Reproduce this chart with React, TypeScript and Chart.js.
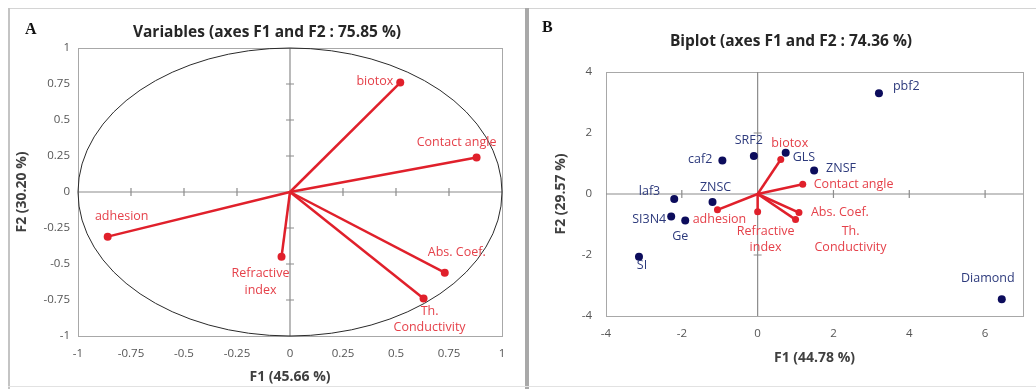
import React, { useEffect, useRef } from "react";
import { Chart, registerables } from "chart.js";

Chart.register(...registerables);

// ---------- Data: panel A (variables, correlation circle) ----------
const varNames = ["biotox", "Contact angle", "adhesion", "Refractive index", "Abs. Coef.", "Th. Conductivity"];
const varF1A = [0.52, 0.88, -0.86, -0.04, 0.73, 0.63];
const varF2A = [0.76, 0.24, -0.31, -0.45, -0.56, -0.74];
const ticksXA = [-1, -0.75, -0.5, -0.25, 0, 0.25, 0.5, 0.75, 1];
const ticksYA = [-1, -0.75, -0.5, -0.25, 0, 0.25, 0.5, 0.75, 1];

// ---------- Data: panel B (biplot) ----------
const sampleNames = ["pbf2", "SRF2", "caf2", "GLS", "ZNSF", "laf3", "ZNSC", "SI3N4", "Ge", "SI", "Diamond"];
const sampleF1 = [3.2, -0.1, -0.93, 0.74, 1.49, -2.2, -1.19, -2.28, -1.91, -3.13, 6.44];
const sampleF2 = [3.3, 1.25, 1.1, 1.35, 0.77, -0.16, -0.26, -0.74, -0.87, -2.06, -3.45];
const varF1B = [0.61, 1.19, -1.06, 0.0, 1.09, 1.0];
const varF2B = [1.13, 0.32, -0.52, -0.58, -0.61, -0.84];
const ticksXB = [-4, -2, 0, 2, 4, 6];
const ticksYB = [-4, -2, 0, 2, 4];

// ---------- Label placement (pixel offsets from the point) ----------
type Place = { dx: number; dy: number; align: CanvasTextAlign; wrap?: boolean; lh?: number };
const placeVarA: Place[] = [
  { dx: -7, dy: -1, align: "right" },
  { dx: -20, dy: -15, align: "center" },
  { dx: 14, dy: -20, align: "center" },
  { dx: -21, dy: 17, align: "center", wrap: true, lh: 17 },
  { dx: 12, dy: -20, align: "center" },
  { dx: 6, dy: 13, align: "center", wrap: true, lh: 16 },
];
const placeVarB: Place[] = [
  { dx: 9, dy: -16, align: "center" },
  { dx: 11, dy: 0, align: "left" },
  { dx: 2, dy: 10, align: "center" },
  { dx: 8, dy: 20, align: "center", wrap: true, lh: 16 },
  { dx: 12, dy: 0, align: "left" },
  { dx: 55, dy: 12, align: "center", wrap: true, lh: 16 },
];
const placeSamples: Place[] = [
  { dx: 14, dy: -7, align: "left" },
  { dx: -5, dy: -15, align: "center" },
  { dx: -10, dy: -1, align: "right" },
  { dx: 7, dy: 5, align: "left" },
  { dx: 12, dy: -2, align: "left" },
  { dx: -14, dy: -7, align: "right" },
  { dx: 3, dy: -14, align: "center" },
  { dx: -5, dy: 3, align: "right" },
  { dx: -5, dy: 16, align: "center" },
  { dx: 3, dy: 9, align: "center" },
  { dx: -14, dy: -21, align: "center" },
];

const FONT = "'Open Sans', 'DejaVu Sans', sans-serif";
const RED = "#e0202b";
const RED_TEXT = "#e5414a";
const NAVY = "#0c0c5c";
const NAVY_TEXT = "#2d3a7c";

type LabelItem = { x: number; y: number; text: string; color: string } & Place;

function buildLabels(names: string[], xs: number[], ys: number[], places: Place[], color: string): LabelItem[] {
  return names.map((n, i) => ({ x: xs[i], y: ys[i], text: n, color, ...places[i] }));
}

const decorPlugin = {
  id: "decor",
  beforeDatasetsDraw(chart: any, _args: any, opts: any) {
    const { ctx, chartArea: a, scales } = chart;
    const xs = scales.x, ys = scales.y;
    ctx.save();
    ctx.strokeStyle = "#a8a8a8";
    ctx.lineWidth = 1;
    ctx.strokeRect(Math.round(a.left) + 0.5, Math.round(a.top) + 0.5, Math.round(a.right - a.left), Math.round(a.bottom - a.top));
    const x0 = xs.getPixelForValue(0);
    const y0 = ys.getPixelForValue(0);
    ctx.strokeStyle = "#8c8c8c";
    ctx.lineWidth = 1.2;
    ctx.beginPath();
    ctx.moveTo(x0, a.top);
    ctx.lineTo(x0, a.bottom);
    ctx.moveTo(a.left, y0);
    ctx.lineTo(a.right, y0);
    xs.ticks.forEach((t: any) => {
      if (t.value === 0 || t.value === xs.min || t.value === xs.max) return;
      const px = xs.getPixelForValue(t.value);
      ctx.moveTo(px, y0 - 4);
      ctx.lineTo(px, y0 + 4);
    });
    ys.ticks.forEach((t: any) => {
      if (t.value === 0 || t.value === ys.min || t.value === ys.max) return;
      const py = ys.getPixelForValue(t.value);
      ctx.moveTo(x0 - 4, py);
      ctx.lineTo(x0 + 4, py);
    });
    ctx.stroke();
    if (opts.circle) {
      const cx = x0, cy = y0;
      const rx = xs.getPixelForValue(1) - cx;
      const ry = cy - ys.getPixelForValue(1);
      ctx.strokeStyle = "#2a2a2a";
      ctx.lineWidth = 1;
      ctx.beginPath();
      ctx.ellipse(cx, cy, rx, ry, 0, 0, Math.PI * 2);
      ctx.stroke();
    }
    ctx.restore();
  },
  afterDatasetsDraw(chart: any, _args: any, opts: any) {
    const { ctx, scales } = chart;
    ctx.save();
    ctx.font = `12.5px ${FONT}`;
    ctx.textBaseline = "middle";
    (opts.labels || []).forEach((l: LabelItem) => {
      const px = scales.x.getPixelForValue(l.x) + l.dx;
      const py = scales.y.getPixelForValue(l.y) + l.dy;
      ctx.fillStyle = l.color;
      ctx.textAlign = l.align;
      const lines = l.wrap ? l.text.split(" ") : [l.text];
      lines.forEach((ln, i) => ctx.fillText(ln, px, py + i * (l.lh || 16)));
    });
    ctx.restore();
  },
  afterDraw(chart: any, _args: any, opts: any) {
    const { ctx, chartArea: a } = chart;
    ctx.save();
    ctx.textBaseline = "middle";
    ctx.textAlign = "center";
    ctx.fillStyle = "#262626";
    ctx.font = `bold 15.5px ${FONT}`;
    ctx.fillText(opts.title, opts.titleX, opts.titleY);
    ctx.fillStyle = "#404040";
    ctx.font = `bold 14px ${FONT}`;
    ctx.fillText(opts.xTitle, (a.left + a.right) / 2, opts.xTitleY);
    ctx.save();
    ctx.translate(opts.yTitleX, (a.top + a.bottom) / 2);
    ctx.rotate(-Math.PI / 2);
    ctx.fillText(opts.yTitle, 0, 0);
    ctx.restore();
    ctx.fillStyle = "#111";
    ctx.font = "bold 16px 'Liberation Serif', 'DejaVu Serif', serif";
    ctx.textAlign = "left";
    ctx.fillText(opts.letter, opts.letterX, opts.letterY);
    ctx.restore();
  },
};

function scaleOpts(min: number, max: number, tickVals: number[], isX: boolean, size: number, pad: number, extraTicks: any = {}) {
  return {
    type: "linear",
    min,
    max,
    afterBuildTicks: (s: any) => {
      s.ticks = tickVals.map((v) => ({ value: v }));
    },
    afterFit: (s: any) => {
      if (isX) s.height = size;
      else s.width = size;
    },
    ticks: {
      autoSkip: false,
      maxRotation: 0,
      padding: pad,
      color: "#555555",
      font: { family: FONT, size: 11.5 },
      callback: (v: any) => String(v),
      ...extraTicks,
    },
    grid: { display: false, drawTicks: false },
    border: { display: false },
  };
}

function vectorDatasets(xs: number[], ys: number[], radius: number) {
  return xs.map((vx, i) => ({
    data: [
      { x: 0, y: 0 },
      { x: vx, y: ys[i] },
    ],
    showLine: true,
    borderColor: RED,
    backgroundColor: RED,
    borderWidth: 2.5,
    pointRadius: [0, radius],
    pointBorderWidth: 0,
  }));
}

export default function App() {
  const refA = useRef<HTMLCanvasElement | null>(null);
  const refB = useRef<HTMLCanvasElement | null>(null);

  useEffect(() => {
    if (!refA.current || !refB.current) return;
    const chartA = new Chart(refA.current, {
      type: "scatter",
      data: { datasets: vectorDatasets(varF1A, varF2A, 4) as any },
      options: {
        animation: false,
        responsive: false,
        devicePixelRatio: 1,
        events: [],
        layout: { padding: { left: 0, right: 23, top: 40, bottom: 0 } },
        scales: {
          x: scaleOpts(-1, 1, ticksXA, true, 53, 11) as any,
          y: scaleOpts(-1, 1, ticksYA, false, 70, 8) as any,
        },
        plugins: {
          legend: { display: false },
          tooltip: { enabled: false },
          decor: {
            circle: true,
            title: "Variables (axes F1 and F2 : 75.85 %)",
            titleX: 259,
            titleY: 25,
            xTitle: "F1 (45.66 %)",
            xTitleY: 369,
            yTitle: "F2 (30.20 %)",
            yTitleX: 14,
            letter: "A",
            letterX: 17,
            letterY: 22,
            labels: buildLabels(varNames, varF1A, varF2A, placeVarA, RED_TEXT),
          },
        } as any,
      },
      plugins: [decorPlugin as any],
    });

    const chartB = new Chart(refB.current, {
      type: "scatter",
      data: {
        datasets: [
          {
            data: sampleF1.map((v, i) => ({ x: v, y: sampleF2[i] })),
            backgroundColor: NAVY,
            borderColor: NAVY,
            pointRadius: 4,
            pointBorderWidth: 0,
          },
          ...(vectorDatasets(varF1B, varF2B, 3.5) as any),
        ],
      },
      options: {
        animation: false,
        responsive: false,
        devicePixelRatio: 1,
        events: [],
        layout: { padding: { left: 0, right: 13, top: 64, bottom: 0 } },
        scales: {
          x: scaleOpts(-4, 7, ticksXB, true, 73, 11, { includeBounds: false }) as any,
          y: scaleOpts(-4, 4, ticksYB, false, 76, 14) as any,
        },
        plugins: {
          legend: { display: false },
          tooltip: { enabled: false },
          decor: {
            circle: false,
            title: "Biplot (axes F1 and F2 : 74.36 %)",
            titleX: 261,
            titleY: 34,
            xTitle: "F1 (44.78 %)",
            xTitleY: 350,
            yTitle: "F2 (29.57 %)",
            yTitleX: 31,
            letter: "B",
            letterX: 12,
            letterY: 20,
            labels: [
              ...buildLabels(sampleNames, sampleF1, sampleF2, placeSamples, NAVY_TEXT),
              ...buildLabels(varNames, varF1B, varF2B, placeVarB, RED_TEXT),
            ],
          },
        } as any,
      },
      plugins: [decorPlugin as any],
    });

    return () => {
      chartA.destroy();
      chartB.destroy();
    };
  }, []);

  return (
    <div style={{ position: "absolute", left: 0, top: 0, width: 1036, height: 389, background: "#fff", overflow: "hidden" }}>
      <div style={{ position: "absolute", left: 8, top: 8, width: 1028, height: 1, background: "#d4d4d4" }} />
      <div style={{ position: "absolute", left: 8, top: 8, width: 2, height: 381, background: "#c4c4c4" }} />
      <div style={{ position: "absolute", left: 525, top: 8, width: 4, height: 381, background: "#a9a9a9" }} />
      <div style={{ position: "absolute", left: 8, top: 386, width: 1028, height: 1, background: "#e2e2e2" }} />
      <canvas ref={refA} width={517} height={381} style={{ position: "absolute", left: 8, top: 8, width: 517, height: 381 }} />
      <canvas ref={refB} width={506} height={381} style={{ position: "absolute", left: 530, top: 8, width: 506, height: 381 }} />
    </div>
  );
}
